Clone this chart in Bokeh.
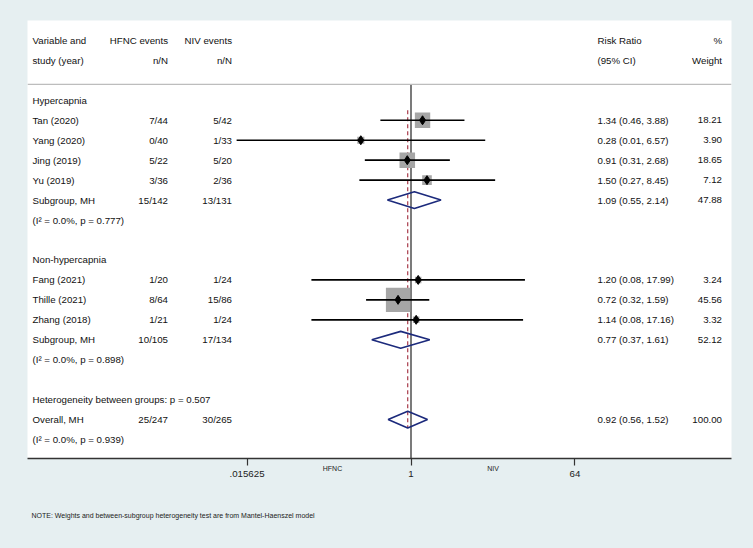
import numpy as np
from bokeh.plotting import figure
from bokeh.models import (ColumnDataSource, Range1d, FixedTicker, Span, LogAxis,
                          Title, GlobalInlineStyleSheet)
from bokeh.core.properties import value
from bokeh.embed import file_html
from bokeh.resources import INLINE

# ---------------- data ----------------
studies = ["Tan (2020)", "Yang (2020)", "Jing (2019)", "Yu (2019)",
           "Fang (2021)", "Thille (2021)", "Zhang (2018)"]
hfnc_events = ["7/44", "0/40", "5/22", "3/36", "1/20", "8/64", "1/21"]
niv_events = ["5/42", "1/33", "5/20", "2/36", "1/24", "15/86", "1/24"]
rr = [1.34, 0.28, 0.91, 1.50, 1.20, 0.72, 1.14]
rr_lo = [0.46, 0.012, 0.31, 0.27, 0.08, 0.32, 0.08]
rr_hi = [3.88, 6.57, 2.68, 8.45, 17.99, 1.59, 17.16]
weight = [18.21, 3.90, 18.65, 7.12, 3.24, 45.56, 3.32]
study_row = [1, 2, 3, 4, 9, 10, 11]

pool_labels = ["Subgroup, MH", "Subgroup, MH", "Overall, MH"]
pool_hfnc = ["15/142", "10/105", "25/247"]
pool_niv = ["13/131", "17/134", "30/265"]
pool_rr = [1.09, 0.77, 0.92]
pool_lo = [0.55, 0.37, 0.56]
pool_hi = [2.14, 1.61, 1.52]
pool_weight = [47.88, 52.12, 100.00]
pool_row = [5, 12, 16]
pool_het = ["(I\u00b2 = 0.0%, p = 0.777)", "(I\u00b2 = 0.0%, p = 0.898)",
            "(I\u00b2 = 0.0%, p = 0.939)"]

group_labels = ["Hypercapnia", "Non-hypercapnia",
                "Heterogeneity between groups: p = 0.507"]
group_row = [0, 8, 15]

header1 = ["Variable and", "HFNC events", "NIV events", "Risk Ratio", "%"]
header2 = ["study (year)", "n/N", "n/N", "(95% CI)", "Weight"]

tick_values = [0.015625, 1, 64]
tick_labels = [".015625", "1", "64"]
favours_labels = ["HFNC", "NIV"]
overall_rr = 0.92
note = "NOTE: Weights and between-subgroup heterogeneity test are from Mantel-Haenszel model"

# ---------------- layout helpers ----------------
BG = "#e6eff1"
FONT = "Liberation Sans"
FS = "9.7px"
NULL_PX = 410.5     # page x of RR = 1
PX_PER_LOG2 = 27.33
FRAME_L, FRAME_R = 27, 731


def xd(px):
    """page pixel x -> data (risk ratio) value on the log axis"""
    return 2 ** ((px - NULL_PX) / PX_PER_LOG2)


COL_STUDY = xd(32)
COL_HFNC = xd(167.5)
COL_NIV = xd(231.5)
COL_CI = xd(597)
COL_W = xd(721.5)
FAV_X = [xd(332), xd(492.5)]

p = figure(width=753, height=548, x_axis_type="log",
           x_range=Range1d(xd(FRAME_L), xd(FRAME_R)),
           y_range=Range1d(17.95, -4.0),
           output_backend="svg", toolbar_location=None,
           min_border_left=27, min_border_right=22,
           min_border_top=20, min_border_bottom=89,
           y_axis_location=None)
p.background_fill_color = "white"
p.border_fill_color = BG
p.outline_line_color = None
p.xgrid.visible = False
p.ygrid.visible = False
p.stylesheets = [GlobalInlineStyleSheet(css="html, body { background-color: %s; }" % BG)]

ax = p.xaxis[0]
ax.ticker = FixedTicker(ticks=tick_values)
ax.major_label_overrides = {t: l for t, l in zip(tick_values, tick_labels)}
ax.minor_tick_line_color = None
ax.major_tick_out = 7
ax.major_tick_in = 0
ax.major_tick_line_color = "#333333"
ax.major_tick_line_width = 1.2
ax.axis_line_color = "#333333"
ax.axis_line_width = 1.5
ax.major_label_text_font = FONT
ax.major_label_text_font_size = FS
ax.major_label_text_color = "#222222"
ax.major_label_standoff = 5

# favours labels as a second, line-less axis pulled up into the tick-label band
fav = LogAxis(ticker=FixedTicker(ticks=FAV_X),
              major_label_overrides={t: l for t, l in zip(FAV_X, favours_labels)},
              axis_line_color=None, major_tick_line_color=None,
              minor_tick_line_color=None, major_tick_in=0, major_tick_out=0,
              major_label_standoff=-15, major_label_text_font=FONT,
              major_label_text_font_size="7px", major_label_text_color="#222222")
p.add_layout(fav, "below")

# separator line under header
p.add_layout(Span(location=-0.8, dimension="width", line_color="#bdbdbd", line_width=1.3))

# null line
p.segment(x0=[1], y0=[-0.8], x1=[1], y1=[17.95], line_color="#222222", line_width=1.2)

# overall effect dashed line
p.segment(x0=[overall_rr], y0=[0.5], x1=[overall_rr], y1=[16.4],
          line_color="#a83a4a", line_width=1.2, line_dash="4 3")

# studies
src = ColumnDataSource(dict(
    study=studies, hfnc=hfnc_events, niv=niv_events,
    rr=rr, lo=rr_lo, hi=rr_hi, w=weight, row=study_row,
    size=[3.6 * np.sqrt(w) for w in weight],
    ci=["%.2f (%.2f, %.2f)" % (a, b, c) for a, b, c in zip(rr, rr_lo, rr_hi)],
    wt=["%.2f" % w for w in weight],
))
p.scatter(x="rr", y="row", size="size", marker="square", source=src,
          fill_color="#a6a6a6", line_color=None)
p.segment(x0="lo", y0="row", x1="hi", y1="row", source=src,
          line_color="black", line_width=1.7)
p.scatter(x="rr", y="row", size=9, marker="diamond", source=src,
          fill_color="black", line_color="black")

# pooled diamonds
H = 0.42
xs = [[lo, est, hi, est] for lo, est, hi in zip(pool_lo, pool_rr, pool_hi)]
ys = [[r, r - H, r, r + H] for r in pool_row]
p.patches(xs=xs, ys=ys, fill_color="white", fill_alpha=0.0,
          line_color="#1c2a7c", line_width=1.6)

# ---------------- table text ----------------
tkw = dict(text_font=value(FONT), text_font_size=FS, text_color="#111111",
           text_baseline="middle")

for r, hdr in ((-3, header1), (-2, header2)):
    p.text(x=[COL_STUDY], y=[r], text=[hdr[0]], text_align="left", **tkw)
    p.text(x=[COL_HFNC], y=[r], text=[hdr[1]], text_align="right", **tkw)
    p.text(x=[COL_NIV], y=[r], text=[hdr[2]], text_align="right", **tkw)
    p.text(x=[COL_CI], y=[r], text=[hdr[3]], text_align="left", **tkw)
    p.text(x=[COL_W], y=[r], text=[hdr[4]], text_align="right", **tkw)

p.text(x=[COL_STUDY] * len(group_labels), y=group_row, text=group_labels,
       text_align="left", **tkw)

p.text(x=COL_STUDY, y="row", text="study", source=src, text_align="left", **tkw)
p.text(x=COL_HFNC, y="row", text="hfnc", source=src, text_align="right", **tkw)
p.text(x=COL_NIV, y="row", text="niv", source=src, text_align="right", **tkw)
p.text(x=COL_CI, y="row", text="ci", source=src, text_align="left", **tkw)
p.text(x=COL_W, y="row", text="wt", source=src, text_align="right", **tkw)

psrc = ColumnDataSource(dict(
    lab=pool_labels, hfnc=pool_hfnc, niv=pool_niv, row=pool_row,
    hrow=[r + 1 for r in pool_row], het=pool_het,
    ci=["%.2f (%.2f, %.2f)" % (a, b, c) for a, b, c in zip(pool_rr, pool_lo, pool_hi)],
    wt=["%.2f" % w for w in pool_weight],
))
p.text(x=COL_STUDY, y="row", text="lab", source=psrc, text_align="left", **tkw)
p.text(x=COL_HFNC, y="row", text="hfnc", source=psrc, text_align="right", **tkw)
p.text(x=COL_NIV, y="row", text="niv", source=psrc, text_align="right", **tkw)
p.text(x=COL_CI, y="row", text="ci", source=psrc, text_align="left", **tkw)
p.text(x=COL_W, y="row", text="wt", source=psrc, text_align="right", **tkw)
p.text(x=COL_STUDY, y="hrow", text="het", source=psrc, text_align="left", **tkw)

# note
p.add_layout(Title(text=note, align="left", offset=4, standoff=60,
                   text_font=FONT, text_font_size="7px",
                   text_font_style="normal", text_color="#222222"), "below")

open("out.html", "w").write(file_html(p, INLINE))
